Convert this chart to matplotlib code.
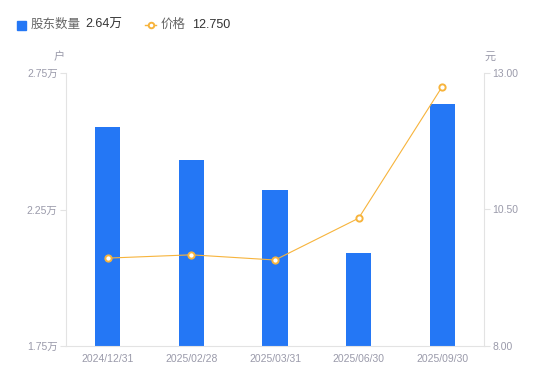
import matplotlib
matplotlib.use("Agg")
import matplotlib.pyplot as plt
from matplotlib.lines import Line2D

categories = ["2024/12/31", "2025/02/28", "2025/03/31", "2025/06/30", "2025/09/30"]
holders = [2.552, 2.431, 2.321, 2.091, 2.636]  # 万户
price = [9.61, 9.67, 9.575, 10.34, 12.75]
left_ticks = [1.75, 2.25, 2.75]
left_labels = ["1.75万", "2.25万", "2.75万"]
right_ticks = [8.0, 10.5, 13.0]
right_labels = ["8.00", "10.50", "13.00"]

FONT = ["Liberation Sans", "Noto Sans CJK SC", "DejaVu Sans"]
plt.rcParams['font.family'] = FONT

BLUE = "#2477F5"
ORANGE = "#F7B43C"
TICK = "#9A9AAA"
AXIS = "#E3E3E3"

fig = plt.figure(figsize=(5.5, 3.81), dpi=100)
ax = fig.add_axes([66/550, 35/381, 418/550, 273/381])
x = list(range(len(categories)))
ax.bar(x, holders, width=0.3, color=BLUE, zorder=2)
ax.set_xlim(-0.5, len(categories) - 0.5)
ax.set_ylim(1.75, 2.75)
ax.set_yticks(left_ticks)
ax.set_yticklabels(left_labels)
ax.set_xticks(x)
ax.set_xticklabels(categories)
ax.tick_params(axis='x', length=0, pad=6, labelsize=7.5, labelcolor=TICK)
ax.tick_params(axis='y', length=4, width=0.8, color=AXIS, pad=2, labelsize=7.5, labelcolor=TICK)
for s in ['top', 'right']:
    ax.spines[s].set_visible(False)
ax.spines['left'].set_color(AXIS)
ax.spines['bottom'].set_color(AXIS)

ax2 = ax.twinx()
ax2.plot(x, price, color=ORANGE, lw=0.8, marker='o', ms=4.5, mfc='white',
         mec=ORANGE, mew=1.4, zorder=3)
ax2.set_ylim(8, 13)
ax2.set_yticks(right_ticks)
ax2.set_yticklabels(right_labels)
ax2.tick_params(axis='y', length=4, width=0.8, color=AXIS, pad=2, labelsize=7.5, labelcolor=TICK)
for s in ['top', 'left', 'bottom']:
    ax2.spines[s].set_visible(False)
ax2.spines['right'].set_color(AXIS)

fig.text(59/550, 1 - 57/381, "户", fontsize=8, color=TICK, ha='center', va='center')
fig.text(490/550, 1 - 57/381, "元", fontsize=8, color=TICK, ha='center', va='center')

# legend
ly = 1 - 25/381
fig.patches.append(plt.Rectangle((17/550, 1 - 29.5/381), 9/550, 9/381, transform=fig.transFigure,
                                 color=BLUE, figure=fig))
fig.text(31/550, ly, "股东数量", fontsize=9, color="#666666", va='center', ha='left')
fig.text(85/550, ly, "2.64万", fontsize=9, color="#333333", va='center', ha='left')
fig.add_artist(Line2D([145/550, 156/550], [ly, ly], transform=fig.transFigure, color=ORANGE, lw=1))
fig.add_artist(Line2D([150.5/550], [ly], transform=fig.transFigure, color=ORANGE, marker='o',
                      ms=4, mfc='white', mec=ORANGE, mew=1.4))
fig.text(161/550, ly, "价格", fontsize=9, color="#666666", va='center', ha='left')
fig.text(192/550, ly, "12.750", fontsize=9, color="#333333", va='center', ha='left')

fig.savefig("out.png", dpi=100)
